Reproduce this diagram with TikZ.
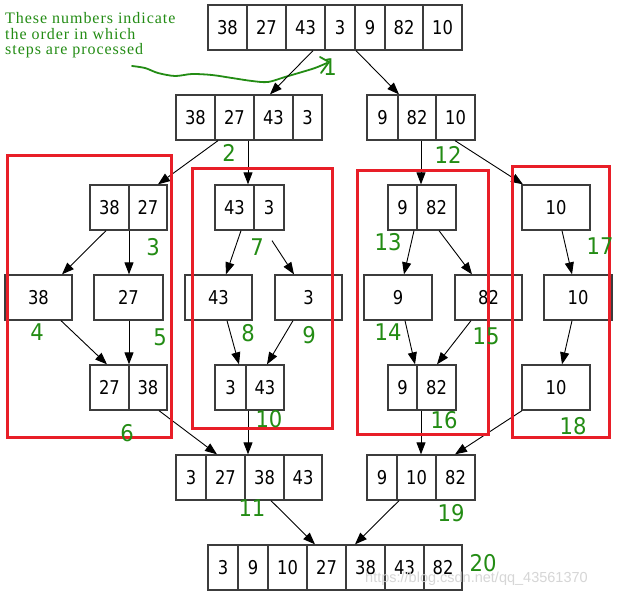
\documentclass[tikz,border=0pt]{standalone}
\usepackage{fontspec}
\setmainfont{DejaVu Sans}
\newfontfamily\boxfont[FakeStretch=0.86]{DejaVu Sans}
\newfontfamily\numfont[FakeStretch=0.92]{DejaVu Sans}
\newfontfamily\notefont[LetterSpace=6]{Liberation Serif}
\newfontfamily\wmfont{Liberation Sans}
\usetikzlibrary{arrows.meta,calc}
\definecolor{stepgreen}{RGB}{35,140,20}
\definecolor{framered}{RGB}{232,30,40}
\definecolor{boxgray}{RGB}{60,60,60}
\newcommand{\cellnode}[6]{\node[cellbox, minimum width={(#3)-(#2)}, minimum height={(#5)-(#4)}] (#1) at ({((#2)+(#3))/2},{((#4)+(#5))/2}) {#6};}
\tikzset{
  cellbox/.style={draw=boxgray, line width=1.3pt, inner sep=0pt, font=\boxfont\fontsize{19}{21}\selectfont},
  arr/.style={-{Triangle[length=12pt,width=9pt]}, line width=0.9pt, black},
  stepnum/.style={text=stepgreen, font=\numfont\fontsize{23}{25}\selectfont, inner sep=0pt},
  groupframe/.style={draw=framered, line width=3pt},
}
\begin{document}
\begin{tikzpicture}[x=1pt,y=-1pt]
\fill[white] (0,0) rectangle (618,595);
\useasboundingbox (0,0) rectangle (618,595);
% note
\node[anchor=north west, align=left, text=stepgreen, inner sep=0pt,
      font=\notefont\fontsize{16}{15.5}\selectfont] (note) at (5,12.4)
  {These numbers indicate\\the order in which\\steps are processed};
\draw[stepgreen, line width=1.8pt, line cap=round] plot[smooth] coordinates
  {(132,66) (145,68) (158,73) (175,76) (192,74) (212,75) (232,78) (252,81) (268,82) (285,77) (302,72) (315,68) (327,63)};
\draw[stepgreen, line width=1.8pt, line cap=round, line join=round] (320,57) -- (329,62) -- (321,73);
% level 1
\cellnode{t1}{208}{247}{5}{50}{38}
\cellnode{t2}{247}{286}{5}{50}{27}
\cellnode{t3}{286}{325}{5}{50}{43}
\cellnode{t4}{325}{355}{5}{50}{3}
\cellnode{t5}{355}{385}{5}{50}{9}
\cellnode{t6}{385}{423}{5}{50}{82}
\cellnode{t7}{423}{462}{5}{50}{10}
% level 2
\cellnode{a1}{176}{215}{95}{140}{38}
\cellnode{a2}{215}{254}{95}{140}{27}
\cellnode{a3}{254}{293}{95}{140}{43}
\cellnode{a4}{293}{322}{95}{140}{3}
\cellnode{b1}{367}{398}{95}{140}{9}
\cellnode{b2}{398}{436}{95}{140}{82}
\cellnode{b3}{436}{475}{95}{140}{10}
% level 3
\cellnode{c1}{90}{129}{185}{230}{38}
\cellnode{c2}{129}{167}{185}{230}{27}
\cellnode{d1}{215}{254}{185}{230}{43}
\cellnode{d2}{254}{284}{185}{230}{3}
\cellnode{e1}{388}{417}{185}{230}{9}
\cellnode{e2}{417}{456}{185}{230}{82}
\cellnode{f1}{522}{590}{185}{230}{10}
% level 4
\cellnode{g1}{5}{72}{275}{320}{38}
\cellnode{g2}{94}{163}{275}{320}{27}
\cellnode{g3}{185}{252}{275}{320}{43}
\cellnode{g4}{275}{342}{275}{320}{3}
\cellnode{g5}{364}{432}{275}{320}{9}
\cellnode{g6}{455}{522}{275}{320}{82}
\cellnode{g7}{544}{612}{275}{320}{10}
% level 5
\cellnode{h1}{90}{129}{365}{410}{27}
\cellnode{h2}{129}{167}{365}{410}{38}
\cellnode{i1}{215}{246}{365}{410}{3}
\cellnode{i2}{246}{284}{365}{410}{43}
\cellnode{j1}{388}{417}{365}{410}{9}
\cellnode{j2}{417}{456}{365}{410}{82}
\cellnode{k1}{522}{590}{365}{410}{10}
% level 6
\cellnode{m1}{176}{206}{455}{500}{3}
\cellnode{m2}{206}{245}{455}{500}{27}
\cellnode{m3}{245}{284}{455}{500}{38}
\cellnode{m4}{284}{322}{455}{500}{43}
\cellnode{n1}{367}{397}{455}{500}{9}
\cellnode{n2}{397}{436}{455}{500}{10}
\cellnode{n3}{436}{475}{455}{500}{82}
% level 7
\cellnode{p1}{208}{238}{545}{590}{3}
\cellnode{p2}{238}{268}{545}{590}{9}
\cellnode{p3}{268}{307}{545}{590}{10}
\cellnode{p4}{307}{346}{545}{590}{27}
\cellnode{p5}{346}{385}{545}{590}{38}
\cellnode{p6}{385}{424}{545}{590}{43}
\cellnode{p7}{424}{462}{545}{590}{82}
% arrows
\draw[arr] (313,0 |- t3.south) -- (270,0 |- a3.north);
\draw[arr] (356,0 |- t5.south) -- (399,0 |- b2.north);
\draw[arr] (218,0 |- a2.south) -- (158,0 |- c2.north);
\draw[arr] (248,0 |- a2.south) -- (248,0 |- d1.north);
\draw[arr] (421,0 |- b2.south) -- (421,0 |- e2.north);
\draw[arr] (455,0 |- b3.south) -- (523,0 |- f1.north);
\draw[arr] (106,0 |- c1.south) -- (62,0 |- g1.north);
\draw[arr] (129,0 |- c1.south) -- (129,0 |- g2.north);
\draw[arr] (241,0 |- d1.south) -- (226,0 |- g3.north);
\draw[arr] ($(272,0 |- d2.south)+(0,10)$) -- (294,0 |- g4.north);
\draw[arr] (414,0 |- e1.south) -- (404,0 |- g5.north);
\draw[arr] (439,0 |- e2.south) -- (472,0 |- g6.north);
\draw[arr] (562,0 |- f1.south) -- (572,0 |- g7.north);
\draw[arr] (61,0 |- g1.south) -- (107,0 |- h1.north);
\draw[arr] (129,0 |- g2.south) -- (129,0 |- h1.north);
\draw[arr] (227,0 |- g3.south) -- (239,0 |- i1.north);
\draw[arr] (293,0 |- g4.south) -- (267,0 |- i2.north);
\draw[arr] (405,0 |- g5.south) -- (415,0 |- j1.north);
\draw[arr] (471,0 |- g6.south) -- (437,0 |- j2.north);
\draw[arr] (572,0 |- g7.south) -- (562,0 |- k1.north);
\draw[arr] (159,0 |- h2.south) -- (217,0 |- m2.north);
\draw[arr] (248,0 |- i2.south) -- (248,0 |- m3.north);
\draw[arr] (421,0 |- j2.south) -- (421,0 |- n2.north);
\draw[arr] (522,0 |- k1.south) -- (455,0 |- n3.north);
\draw[arr] (271,0 |- m3.south) -- (315,0 |- p4.north);
\draw[arr] (399,0 |- n2.south) -- (355,0 |- p5.north);
% red frames
\draw[groupframe] (7,155) rectangle (171,437);
\draw[groupframe] (192,168) rectangle (332,428);
\draw[groupframe] (357,170) rectangle (488,434);
\draw[groupframe] (512,166) rectangle (609,437);
% step numbers
\node[stepnum] (s1) at (330,67) {1};
\node[stepnum] (s2) at (229,153) {2};
\node[stepnum] (s3) at (153,247) {3};
\node[stepnum] (s4) at (37,332) {4};
\node[stepnum] (s5) at (160,337) {5};
\node[stepnum] (s6) at (127,433) {6};
\node[stepnum] (s7) at (257,247) {7};
\node[stepnum] (s8) at (248,333) {8};
\node[stepnum] (s9) at (309,335) {9};
\node[stepnum] (s10) at (269,419) {10};
\node[stepnum] (s11) at (252,508) {11};
\node[stepnum] (s12) at (448,155) {12};
\node[stepnum] (s13) at (388,242) {13};
\node[stepnum] (s14) at (388,332) {14};
\node[stepnum] (s15) at (486,336) {15};
\node[stepnum] (s16) at (444,420) {16};
\node[stepnum] (s17) at (600,246) {17};
\node[stepnum] (s18) at (573,426) {18};
\node[stepnum] (s19) at (451,513) {19};
\node[stepnum] (s20) at (483,563) {20};
% watermark
\node[anchor=base west, inner sep=0pt, text=black!16, font=\wmfont\fontsize{14.5}{16}\selectfont] (wm) at (365,582) {https://blog.csdn.net/qq\_43561370};
\end{tikzpicture}
\end{document}
